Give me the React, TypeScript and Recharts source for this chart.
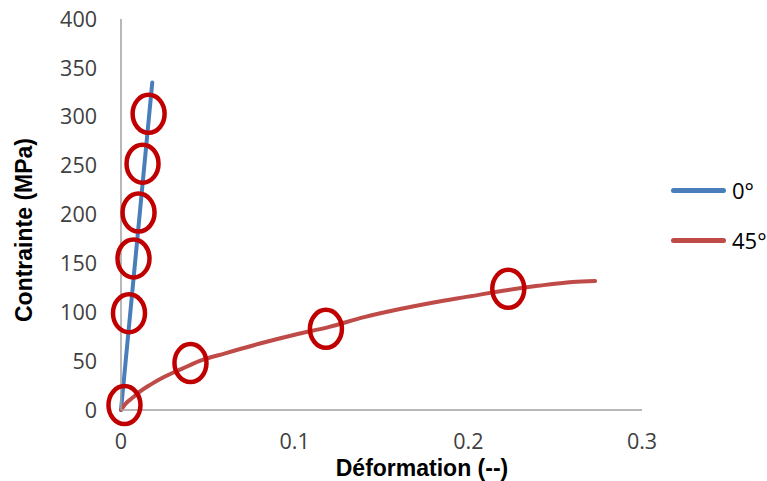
import { ComposedChart, Line, Scatter, XAxis, YAxis } from 'recharts'

// ─── Data ────────────────────────────────────────────────────────────────────
const strain0 = [0, 0.018]
const stress0 = [0, 335]

const strain45 = [0, 0.003, 0.007, 0.011, 0.017, 0.025, 0.035, 0.045, 0.06, 0.08, 0.1, 0.12, 0.14, 0.16, 0.18, 0.2, 0.22, 0.24, 0.26, 0.273]
const stress45 = [0, 7, 13, 19, 26, 34, 42, 50, 58, 68, 77, 85, 95, 103, 110, 116, 122, 127, 131, 132]

// highlighted points (red rings)
const markX = [0.002, 0.0046, 0.0072, 0.0101, 0.0124, 0.0159, 0.04, 0.118, 0.223]
const markY = [5, 99, 155, 202, 252, 303, 48, 83, 124]

const xTicks = [0, 0.1, 0.2, 0.3]
const yTicks = [0, 50, 100, 150, 200, 250, 300, 350, 400]

const seriesNames = ['0°', '45°']
const seriesColors = ['#4a7ebb', '#be4b48']

const xTitle = 'Déformation (--)'
const yTitle = 'Contrainte (MPa)'

const zip = (xs: number[], ys: number[]) => xs.map((x, i) => ({ x, y: ys[i] }))

const FONT = '"Open Sans", sans-serif'
const TITLE_FONT = '"Liberation Sans", Arial, sans-serif'
const tickStyle = { fill: '#404040', fontSize: 21.5, fontFamily: FONT }

function Ring(props: any) {
  const { cx, cy } = props
  if (cx == null || cy == null) return null
  return <ellipse cx={cx} cy={cy} rx={16} ry={19} fill="none" stroke="#c00000" strokeWidth={4.5} />
}

export default function App() {
  const series = [zip(strain0, stress0), zip(strain45, stress45)]
  const marks = zip(markX, markY)

  return (
    <div style={{ position: 'absolute', left: 0, top: 0, width: 767, height: 481, background: '#fff', fontFamily: FONT }}>
      <ComposedChart width={767} height={481} margin={{ top: 19, right: 125, bottom: 0, left: 0 }}>
        <XAxis
          type="number"
          dataKey="x"
          domain={[0, 0.3]}
          ticks={xTicks}
          tickFormatter={(v: number) => String(v)}
          tick={tickStyle}
          tickLine={false}
          tickSize={0}
          tickMargin={24}
          axisLine={{ stroke: '#a0a0a0', strokeWidth: 1.5 }}
          height={71}
          label={{
            content: () => (
              <text x={422} y={476} textAnchor="middle" fontFamily={TITLE_FONT} fontSize={23} fontWeight={700} fill="#000">
                {xTitle}
              </text>
            ),
          }}
        />
        <YAxis
          type="number"
          dataKey="y"
          domain={[0, 400]}
          ticks={yTicks}
          tick={tickStyle}
          tickLine={false}
          tickSize={0}
          tickMargin={24}
          axisLine={{ stroke: '#a0a0a0', strokeWidth: 1.5 }}
          width={121}
          label={{
            content: () => (
              <text
                x={32}
                y={230}
                transform="rotate(-90 32 230)"
                textAnchor="middle"
                fontFamily={TITLE_FONT}
                fontSize={23}
                fontWeight={700}
                fill="#000"
              >
                {yTitle}
              </text>
            ),
          }}
        />
        {series.map((d, i) => (
          <Line
            key={seriesNames[i]}
            data={d}
            dataKey="y"
            name={seriesNames[i]}
            type="monotone"
            stroke={seriesColors[i]}
            strokeWidth={4}
            strokeLinecap="round"
            dot={false}
            activeDot={false}
            isAnimationActive={false}
          />
        ))}
        <Scatter data={marks} dataKey="y" shape={<Ring />} isAnimationActive={false} />
      </ComposedChart>

      {/* legend */}
      <div style={{ position: 'absolute', left: 671, top: 175 }}>
        {seriesNames.map((n, i) => (
          <div key={n} style={{ display: 'flex', alignItems: 'center', height: 30, marginBottom: 20 }}>
            <div style={{ width: 55, height: 5, borderRadius: 3, background: seriesColors[i] }} />
            <span style={{ marginLeft: 6, fontSize: 22, color: '#000', lineHeight: '30px' }}>{n}</span>
          </div>
        ))}
      </div>
    </div>
  )
}
